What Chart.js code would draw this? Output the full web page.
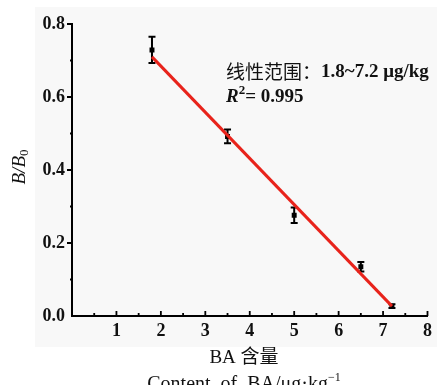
<!DOCTYPE html>
<html>
<head>
<meta charset="utf-8">
<script src="https://cdn.jsdelivr.net/npm/chart.js@4.4.1/dist/chart.umd.min.js"></script>
<style>
  html, body { margin: 0; padding: 0; background: #fff; }
  #wrap { width: 437px; height: 385px; }
</style>
</head>
<body>
<div id="wrap"><canvas id="c"></canvas></div>
<script>
// measured points (BA content vs B/B0)
const content = [1.8, 3.5, 5.0, 6.5, 7.2];
const ratio = [0.729, 0.492, 0.276, 0.135, 0.027];
const errs = [0.036, 0.019, 0.021, 0.013, 0.005];

// fitted line ends
const fitX = [1.8, 7.2];
const fitY = [0.71, 0.027];

const xTicks = [1, 2, 3, 4, 5, 6, 7, 8];
const yTicks = [0.0, 0.2, 0.4, 0.6, 0.8];

const serif = "'Liberation Serif', 'Times New Roman', serif";
const cjk = "'Noto Sans CJK SC', sans-serif";

const panelBg = {
    id: "panelBg",
    beforeDraw(chart) {
        const ctx = chart.ctx;
        ctx.save();
        ctx.fillStyle = "#f8f8f8";
        ctx.fillRect(35, 7, 402, 340);
        ctx.restore();
    },
};

const errorBars = {
    id: "errorBars",
    beforeDatasetsDraw(chart) {
        const { ctx, scales } = chart;
        ctx.save();
        ctx.strokeStyle = "#000";
        ctx.lineWidth = 2;
        content.forEach((x, i) => {
            const px = scales.x.getPixelForValue(x);
            const top = scales.y.getPixelForValue(ratio[i] + errs[i]);
            const bot = scales.y.getPixelForValue(ratio[i] - errs[i]);
            ctx.beginPath();
            ctx.moveTo(px, top);
            ctx.lineTo(px, bot);
            ctx.moveTo(px - 3.5, top);
            ctx.lineTo(px + 3.5, top);
            ctx.moveTo(px - 3.5, bot);
            ctx.lineTo(px + 3.5, bot);
            ctx.stroke();
        });
        ctx.restore();
    },
};

// axis ticks: x ticks point inward, y ticks outward, half-step minors
const axisTicks = {
    id: "axisTicks",
    afterDraw(chart) {
        const { ctx, scales, chartArea } = chart;
        ctx.save();
        ctx.strokeStyle = "#000";
        ctx.lineWidth = 1.8;
        ctx.beginPath();
        for (let v = 0.5; v <= 8; v += 0.5) {
            const px = scales.x.getPixelForValue(v);
            const len = Number.isInteger(v) ? 5 : 3;
            ctx.moveTo(px, chartArea.bottom);
            ctx.lineTo(px, chartArea.bottom - len);
        }
        for (let v = 0.1; v <= 0.81; v += 0.1) {
            const py = scales.y.getPixelForValue(v);
            const major = Math.abs(Math.round(v * 10) % 2) === 0;
            ctx.moveTo(chartArea.left, py);
            ctx.lineTo(chartArea.left - (major ? 5 : 2), py);
        }
        ctx.stroke();
        ctx.restore();
    },
};

const labels = {
    id: "labels",
    afterDraw(chart) {
        const ctx = chart.ctx;
        ctx.save();
        ctx.fillStyle = "#111";
        ctx.textBaseline = "middle";

        // annotation
        let x = 226;
        ctx.font = "19px " + cjk;
        ctx.textAlign = "left";
        const t1 = "线性范围：";
        ctx.fillText(t1, x, 72);
        x += ctx.measureText(t1).width;
        ctx.font = "bold 19px " + serif;
        ctx.fillText("1.8~7.2 μg/kg", x, 72);

        x = 226;
        ctx.font = "italic bold 19px " + serif;
        ctx.fillText("R", x, 97);
        x += ctx.measureText("R").width;
        ctx.font = "bold 13px " + serif;
        ctx.fillText("2", x, 91);
        x += ctx.measureText("2").width;
        ctx.font = "bold 19px " + serif;
        ctx.fillText("= 0.995", x, 97);

        // y title
        ctx.translate(20, 167);
        ctx.rotate(-Math.PI / 2);
        const a = "B/B";
        ctx.font = "13px " + serif;
        const wz = ctx.measureText("0").width;
        ctx.font = "italic 19px " + serif;
        const wa = ctx.measureText(a).width;
        const sx = -(wa + wz) / 2;
        ctx.fillText(a, sx, 0);
        ctx.font = "13px " + serif;
        ctx.fillText("0", sx + wa, 5);
        ctx.setTransform(1, 0, 0, 1, 0, 0);

        // x title
        ctx.textAlign = "center";
        ctx.font = "19px " + serif + ", " + cjk;
        ctx.fillText("BA 含量", 244, 358);
        ctx.textAlign = "left";
        const base = "Content  of  BA/μg·kg";
        ctx.font = "12px " + serif;
        const wsup = ctx.measureText("−1").width;
        ctx.font = "20px " + serif;
        const wb = ctx.measureText(base).width;
        const bx = 244 - (wb + wsup) / 2;
        ctx.fillText(base, bx, 385);
        ctx.font = "12px " + serif;
        ctx.fillText("−1", bx + wb, 378);
        ctx.restore();
    },
};

new Chart(document.getElementById("c"), {
    type: "scatter",
    data: {
        datasets: [
            {
                label: "fit",
                data: fitX.map((x, i) => ({ x: x, y: fitY[i] })),
                showLine: true,
                borderColor: "#e8231b",
                borderWidth: 3,
                pointRadius: 0,
            },
            {
                label: "BA",
                data: content.map((x, i) => ({ x: x, y: ratio[i] })),
                pointStyle: "rect",
                pointRadius: 3.5,
                backgroundColor: "#000",
                borderColor: "#000",
                borderWidth: 0,
            },
        ],
    },
    options: {
        responsive: true,
        maintainAspectRatio: false,
        animation: false,
        layout: { padding: { top: 24, right: 5, left: 0, bottom: 0 } },
        plugins: {
            legend: { display: false },
            tooltip: { enabled: false },
        },
        scales: {
            x: {
                type: "linear",
                min: 0,
                max: 8,
                afterFit: (s) => { s.height = 69; },
                afterBuildTicks: (s) => { s.ticks = xTicks.map((v) => ({ value: v })); },
                grid: { display: false, drawTicks: false },
                border: { display: true, color: "#000", width: 2 },
                ticks: {
                    color: "#111",
                    padding: 5,
                    font: { family: serif, size: 18, weight: "bold" },
                },
            },
            y: {
                min: 0,
                max: 0.8,
                afterFit: (s) => { s.width = 72; },
                afterBuildTicks: (s) => { s.ticks = yTicks.map((v) => ({ value: v })); },
                grid: { display: false, drawTicks: false },
                border: { display: true, color: "#000", width: 2 },
                ticks: {
                    color: "#111",
                    padding: 7,
                    font: { family: serif, size: 18, weight: "bold" },
                    callback: (v) => v.toFixed(1),
                },
            },
        },
    },
    plugins: [panelBg, errorBars, axisTicks, labels],
});
</script>
</body>
</html>
